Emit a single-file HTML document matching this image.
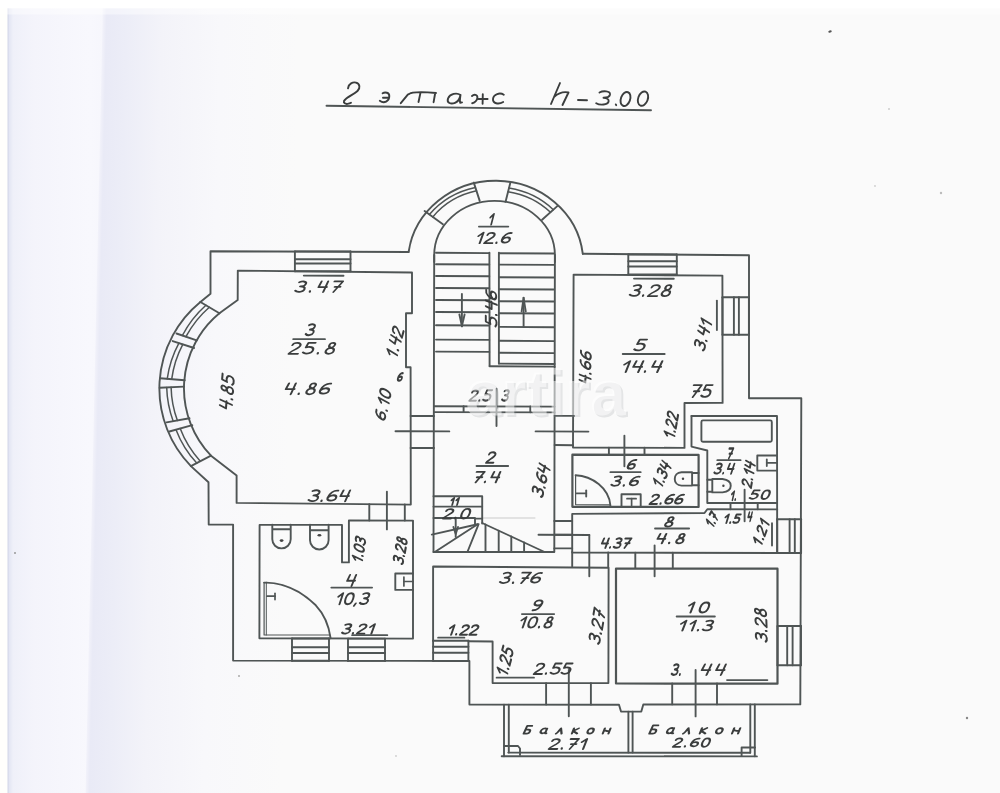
<!DOCTYPE html>
<html><head><meta charset="utf-8"><title>plan</title>
<style>
html,body{margin:0;padding:0;background:#fff;}
body{width:1000px;height:793px;overflow:hidden;position:relative;font-family:"Liberation Sans",sans-serif;}
svg{position:absolute;left:0;top:0;display:block;}
</style></head><body>
<svg width="1000" height="793" viewBox="0 0 1000 793">
<defs>
<linearGradient id="gs" gradientUnits="userSpaceOnUse" x1="8" x2="110" y1="0" y2="0">
<stop offset="0" stop-color="#d3d7e8"/><stop offset="0.012" stop-color="#e3e6f3"/><stop offset="0.05" stop-color="#eff0f9"/>
<stop offset="0.25" stop-color="#f4f4fb"/><stop offset="0.8" stop-color="#f8f8fd"/><stop offset="1" stop-color="#f6f6fc"/>
</linearGradient>
<linearGradient id="gf" gradientUnits="userSpaceOnUse" x1="103" x2="300" y1="0" y2="0">
<stop offset="0" stop-color="#f2f2fa"/><stop offset="0.02" stop-color="#e9eaf6"/><stop offset="0.12" stop-color="#ecedf7"/>
<stop offset="0.3" stop-color="#f3f3f9"/><stop offset="0.6" stop-color="#f8f8fb"/><stop offset="1" stop-color="#fafafa"/>
</linearGradient>
<filter id="bl" x="-2%" y="-2%" width="104%" height="104%"><feGaussianBlur stdDeviation="0.7"/></filter>
<path id="g48" d="M4 -11 C1.2 -11 0.3 -8 0.3 -5.5 C0.3 -2.5 1.2 0 4 0 C6.8 0 7.7 -2.5 7.7 -5.5 C7.7 -8 6.8 -11 4 -11 Z"/><path id="g49" d="M1.2 -7.5 L4.8 -11 L4.8 0"/><path id="g50" d="M0.6 -8.6 C0.8 -11.6 7.4 -11.8 7.2 -8.2 C7 -5.2 1 -3 0.3 0 L7.8 0"/><path id="g51" d="M0.8 -10.2 C3 -11.6 7.2 -11.4 7 -8.4 C6.8 -6.4 4.6 -5.9 3 -5.9 C5.4 -5.9 7.8 -5 7.6 -2.8 C7.3 0.2 2.4 0.6 0.2 -1.4"/><path id="g52" d="M1.2 -11 L0.5 -5.2 L7.6 -5.2 M6.8 -11 L6.2 0"/><path id="g53" d="M7.4 -11 L1.6 -11 L1 -6.4 C3 -7.4 7.8 -7.2 7.7 -3.6 C7.6 0.2 2.6 0.6 0.2 -1.4"/><path id="g54" d="M7 -10.6 C3.2 -11.4 0.3 -7.6 0.3 -3.8 C0.3 0.2 7.4 0.6 7.5 -3.4 C7.5 -6.8 2 -7 0.5 -3.6"/><path id="g55" d="M0.6 -11 L7.8 -11 L3.2 0 M2.6 -5.4 L7.4 -5.4"/><path id="g56" d="M4 -6 C1 -6.6 1.2 -11 4.2 -11 C7.2 -11 6.9 -6.6 4 -6 C-0.2 -5.4 -0.4 0 4 0 C8.4 0 8.2 -5.4 4 -6 Z"/><path id="g57" d="M7.5 -7.4 C6.2 -4.2 0.6 -4.6 0.6 -7.8 C0.6 -11.8 7.8 -11.4 7.6 -7.4 C7.4 -3.6 5 0 1 -0.3"/><path id="g46" d="M1.2 -0.9 L1.4 -0.1"/><path id="g44" d="M1.6 -0.8 L0.6 1.6"/><path id="g45" d="M0.8 -4.8 L6.4 -4.8"/><path id="g1041" d="M7 -10.5 L1.5 -10.5 L1 0 L4.5 0 C8 0 8 -5.5 4.5 -5.5 L1.2 -5.5"/><path id="g1072" d="M6.2 -6.5 C3 -8.5 0.3 -6 0.4 -3.2 C0.5 0.3 5 0.5 6.2 -2.5 M6.4 -7 L6.2 -1.5 C6.2 -0.3 6.8 0 7.6 -0.3"/><path id="g1083" d="M0.3 0 C1.5 -0.5 2.5 -4 3.6 -7.2 L6.6 0"/><path id="g1082" d="M1 -7.2 L1 0 M6.4 -7.2 L1.2 -3.6 L6.8 0"/><path id="g1086" d="M3.6 -7.2 C1.2 -7.2 0.4 -5.4 0.4 -3.6 C0.4 -1.6 1.2 0 3.6 0 C6 0 6.8 -1.6 6.8 -3.6 C6.8 -5.4 6 -7.2 3.6 -7.2 Z"/><path id="g1085" d="M1 -7.2 L1 0 M1 -3.2 C3 -6 5 -1.5 7.4 -4.2 M7.4 -7.2 L7.4 0"/>
</defs>
<rect x="0" y="0" width="1000" height="793" fill="#fafafa"/>
<rect x="0" y="0" width="8" height="793" fill="#fffffc"/>
<rect x="7.5" y="0" width="103" height="793" fill="url(#gs)"/>
<rect x="103" y="0" width="198" height="793" fill="url(#gf)" transform="skewX(-1.26)"/>
<rect x="0" y="0" width="1000" height="8.5" fill="#ffffff"/>
<rect x="0" y="8.5" width="1000" height="6" fill="#ffffff" opacity="0.45"/>
<g filter="url(#bl)">
<ellipse cx="830" cy="31.5" rx="1.8" ry="1.1" fill="#555" transform="rotate(-20 830 31.5)"/>
<circle cx="967" cy="718" r="1.2" fill="#888"/>
<circle cx="15" cy="553" r="1" fill="#999"/>
<circle cx="239" cy="676" r="1" fill="#aaa"/>
<circle cx="941" cy="193" r="1.2" fill="#bbb"/>
<circle cx="889" cy="109" r="1" fill="#ccc"/>
<circle cx="875" cy="186" r="0.9" fill="#ccc"/>
<circle cx="396" cy="756" r="0.9" fill="#ccc"/>
</g>
<g filter="url(#bl)">
<g fill="none" stroke="#505555" stroke-width="1.9" stroke-linecap="round" stroke-linejoin="round">
<path d="M200.4 302 L210.5 293.8 L210.5 251.2 L408.6 252"/>
<path d="M408.6 252 A87.8 82.5 0 0 1 582.8 253.8"/>
<path d="M582.8 253.8 L749 255.2 L749 398.2 L801.3 398.2 L800.3 704.4 L643.3 704.5 L641.3 711.6 L621 711.6 L619 704.8 L469.4 704.6 L469.4 661 L233.1 660.6 L233.1 524.6 L208.7 524.6 L208.5 482.3 L190.9 466.1"/>
<path d="M190.9 466.1 A111.5 111.5 0 0 1 200.4 302"/>
<path d="M219.4 313.3 L237.7 300.1 L237.8 270.6 L412 272.5 L412 313.2 L406 313.2 L406 367.2 L410.6 367.2 L410.8 504.6 L236.6 502.9 L236.6 475.6 L211 455.7"/>
<path d="M211 455.7 A97.3 97.3 0 0 1 219.4 313.3"/>
<line x1="200.4" y1="302" x2="219.4" y2="313.3"/>
<line x1="176.5" y1="333.5" x2="196.7" y2="340.4"/>
<line x1="172.7" y1="341.1" x2="194.1" y2="348"/>
<line x1="160.1" y1="378.3" x2="184.7" y2="380.2"/>
<line x1="159.7" y1="387.8" x2="184" y2="386.6"/>
<line x1="166.6" y1="422.4" x2="189.5" y2="418.3"/>
<line x1="169.4" y1="431.5" x2="192.3" y2="425.2"/>
<line x1="190.9" y1="466.1" x2="211" y2="455.7"/>
<path d="M205.9 305.3 A106.0 106.0 0 0 0 182.4 335.5" stroke-width="1.5"/>
<path d="M209.3 307.3 A102.6 102.6 0 0 0 186.0 336.7" stroke-width="1.5"/>
<path d="M178.9 343.1 A106.0 106.0 0 0 0 167.2 378.9" stroke-width="1.5"/>
<path d="M182.8 344.3 A102.6 102.6 0 0 0 171.7 379.2" stroke-width="1.5"/>
<path d="M166.7 387.5 A106.0 106.0 0 0 0 173.2 421.2" stroke-width="1.5"/>
<path d="M171.1 387.2 A102.6 102.6 0 0 0 177.4 420.5" stroke-width="1.5"/>
<path d="M176.0 429.7 A106.0 106.0 0 0 0 196.7 463.1" stroke-width="1.5"/>
<path d="M180.2 428.5 A102.6 102.6 0 0 0 200.3 461.2" stroke-width="1.5"/>
<path d="M434.2 262 L434.2 255.3 A60.35 54.4 0 0 1 554.9 255.3 L554.9 262"/>
<line x1="424.6" y1="211" x2="442.9" y2="224.2"/>
<line x1="473.8" y1="182.6" x2="479.7" y2="200.9"/>
<line x1="510.2" y1="183.3" x2="505.5" y2="201.9"/>
<line x1="557.3" y1="206.1" x2="542.1" y2="219.8"/>
<path d="M429.4 214.4 A81.6 76.3 0 0 1 475.3 187.4" stroke-width="1.5"/>
<path d="M432.8 216.9 A77.0 71.7 0 0 1 476.5 190.8" stroke-width="1.5"/>
<path d="M509.0 188.1 A81.6 76.3 0 0 1 553.3 209.7" stroke-width="1.5"/>
<path d="M508.1 191.7 A77.0 71.7 0 0 1 550.5 212.3" stroke-width="1.5"/>
<line x1="434.2" y1="255" x2="433.5" y2="552"/>
<line x1="554.9" y1="255" x2="554.3" y2="551.5"/>
<line x1="436" y1="252.8" x2="489.3" y2="253.10000000000002"/>
<line x1="436" y1="264.2" x2="489.3" y2="264.5"/>
<line x1="436" y1="276" x2="489.3" y2="276.3"/>
<line x1="436" y1="288" x2="489.3" y2="288.3"/>
<line x1="436" y1="300" x2="489.3" y2="300.3"/>
<line x1="436" y1="312" x2="489.3" y2="312.3"/>
<line x1="436" y1="325.2" x2="489.3" y2="325.5"/>
<line x1="436" y1="339.6" x2="489.3" y2="339.90000000000003"/>
<line x1="436" y1="351.6" x2="489.3" y2="351.90000000000003"/>
<line x1="499" y1="253.2" x2="553.8" y2="253.5"/>
<line x1="499" y1="264.6" x2="553.8" y2="264.90000000000003"/>
<line x1="499" y1="277.2" x2="553.8" y2="277.5"/>
<line x1="499" y1="289.2" x2="553.8" y2="289.5"/>
<line x1="499" y1="301.2" x2="553.8" y2="301.5"/>
<line x1="499" y1="313.2" x2="553.8" y2="313.5"/>
<line x1="499" y1="326.9" x2="553.8" y2="327.2"/>
<line x1="499" y1="340.8" x2="553.8" y2="341.1"/>
<line x1="499" y1="352.8" x2="553.8" y2="353.1"/>
<line x1="489.4" y1="252.8" x2="489.6" y2="366"/>
<line x1="498.9" y1="252.8" x2="498.9" y2="363.6"/>
<line x1="489.6" y1="366.2" x2="554.6" y2="366.6"/>
<line x1="498.9" y1="363.6" x2="554.6" y2="364"/>
<line x1="461.9" y1="294" x2="461.9" y2="326.4"/>
<path d="M459.4 314.5 L461.9 326 L464.6 314.5"/>
<line x1="523.6" y1="297.6" x2="523.6" y2="326.4"/>
<path d="M521.6 311.5 L523.6 297.8 L525.8 311.5" stroke-width="1.8"/>
<line x1="434" y1="406.3" x2="554.6" y2="406.6"/>
<line x1="434" y1="412.1" x2="554.6" y2="412.4"/>
<line x1="463.6" y1="406.3" x2="463.6" y2="412.1"/>
<line x1="530.3" y1="406.5" x2="530.3" y2="412.3"/>
<line x1="496.5" y1="388.8" x2="496.5" y2="426"/>
<line x1="410.6" y1="416" x2="434" y2="416"/>
<line x1="410.6" y1="448" x2="434" y2="448"/>
<line x1="395.5" y1="431.2" x2="449.3" y2="431.4"/>
<line x1="554.8" y1="415.9" x2="574" y2="415.9"/>
<line x1="554.6" y1="445" x2="573" y2="445.2"/>
<line x1="535.6" y1="431.4" x2="588.4" y2="431.6"/>
<line x1="294.9" y1="251.4" x2="350.5" y2="251.4"/>
<line x1="294.9" y1="259.3" x2="350.5" y2="259.3"/>
<line x1="294.9" y1="263.5" x2="350.5" y2="263.5"/>
<line x1="294.9" y1="271.2" x2="350.5" y2="271.2"/>
<line x1="294.9" y1="251.4" x2="294.9" y2="271.2"/>
<line x1="350.5" y1="251.4" x2="350.5" y2="271.2"/>
<line x1="303.8" y1="275.6" x2="343.5" y2="275.8"/>
<line x1="628.3" y1="254.5" x2="676.8" y2="254.5"/>
<line x1="628.3" y1="261.2" x2="676.8" y2="261.2"/>
<line x1="628.3" y1="266.5" x2="676.8" y2="266.5"/>
<line x1="628.3" y1="274.4" x2="676.8" y2="274.4"/>
<line x1="628.3" y1="254.5" x2="628.3" y2="274.4"/>
<line x1="676.8" y1="254.5" x2="676.8" y2="274.4"/>
<line x1="634" y1="278.6" x2="673.8" y2="278.8"/>
<path d="M573.6 274.6 L722.4 275.6 L722.6 402.9 L684.5 403 L684.5 447.9 L573 447.5 Z"/>
<line x1="722.5" y1="297.3" x2="722.5" y2="334.8"/>
<line x1="733.9" y1="297.3" x2="733.9" y2="334.8"/>
<line x1="738.9" y1="297.3" x2="738.9" y2="334.8"/>
<line x1="748.9" y1="297.3" x2="748.9" y2="334.8"/>
<line x1="722.5" y1="297.3" x2="748.9" y2="297.3"/>
<line x1="722.5" y1="334.8" x2="748.9" y2="334.8"/>
<line x1="716.9" y1="300.6" x2="716.9" y2="330.1"/>
<line x1="608.9" y1="447.7" x2="608.9" y2="454.6"/>
<line x1="644.5" y1="447.7" x2="644.5" y2="454.6"/>
<line x1="624.4" y1="435.7" x2="624.4" y2="466.2"/>
<path d="M572.4 454.7 L698.6 454.9 L698.6 507 L572.4 506.8 Z" stroke-width="2.2"/>
<path d="M575.6 475.3 L575.6 504.6 L610.4 504.8" stroke-width="1.2"/>
<path d="M575.6 475.3 C592 476 609 488 610.4 505.5"/>
<line x1="576.4" y1="493.4" x2="586.2" y2="493.4"/>
<line x1="586.2" y1="490.4" x2="586.2" y2="496.6"/>
<path d="M621.5 507 L621.5 494.2 L640.7 494.2 L640.7 507"/>
<line x1="627" y1="498.7" x2="636.1" y2="498.7" stroke-width="1.7"/>
<line x1="631.6" y1="498.7" x2="631.6" y2="505.5" stroke-width="1.7"/>
<path d="M692.1 473 L698.6 473 M692.1 485.3 L698.6 485.3 M692.1 472.2 L681.5 472.2 C672.5 472.6 672.5 485.2 681.5 485.6 L692.1 485.6 Z"/>
<circle cx="683" cy="478.7" r="1.2" fill="#444" stroke="none"/>
<path d="M691.5 416 L777 416 L777.2 552.6"/>
<path d="M777.2 503 L707.3 503 L707.3 450.5 L691.5 446.6 L691.5 416"/>
<rect x="701.4" y="420.4" width="70.4" height="21.4" rx="1.5" ry="1.5"/>
<path d="M777 455.5 L757.3 455.5 L757.3 470.6 L777 470.6"/>
<line x1="766.8" y1="462.8" x2="777" y2="462.8" stroke-width="1.8"/>
<line x1="766.8" y1="459.5" x2="766.8" y2="466" stroke-width="1.8"/>
<path d="M707.3 479.7 L712.3 479.7 M707.3 491.8 L712.3 491.8 M712.3 479 L722.5 479 C733.5 480.5 733.5 490.8 722.5 492.4 L712.3 492.4 Z"/>
<circle cx="723.4" cy="485.8" r="1.2" fill="#444" stroke="none"/>
<line x1="730.5" y1="503" x2="730.5" y2="509.3"/>
<line x1="757.7" y1="503" x2="757.7" y2="509.3"/>
<line x1="744.6" y1="489.8" x2="744.6" y2="521.3"/>
<path d="M777.2 509.4 L707.3 509.2 L704.5 513 L572.2 513.9 L572.2 552.6 L777.2 553"/>
<line x1="777.2" y1="519.2" x2="777.2" y2="553"/>
<line x1="789.6" y1="519.2" x2="789.6" y2="553"/>
<line x1="794.8" y1="519.2" x2="794.8" y2="553"/>
<line x1="801.1" y1="519.2" x2="801.1" y2="553"/>
<line x1="777.2" y1="519.2" x2="801.1" y2="519.2"/>
<line x1="777.2" y1="553" x2="801.1" y2="553"/>
<line x1="772" y1="523.3" x2="772" y2="545.6"/>
<line x1="608.2" y1="552.4" x2="608.2" y2="567"/>
<line x1="635.3" y1="552.6" x2="635.3" y2="568"/>
<line x1="672.8" y1="552.6" x2="672.8" y2="568.2"/>
<line x1="654.6" y1="545.4" x2="654.6" y2="576.2"/>
<line x1="589.3" y1="535" x2="589.3" y2="576.2"/>
<line x1="572.2" y1="552" x2="572.2" y2="566.5"/>
<line x1="554.3" y1="521" x2="572.2" y2="521"/>
<line x1="554.3" y1="534.8" x2="572.2" y2="534.8"/>
<line x1="554.3" y1="548.4" x2="572.2" y2="548.4"/>
<line x1="538.5" y1="534.8" x2="589.3" y2="535"/>
<path d="M433.5 496.3 L482.2 496.3 L482.2 523.6"/>
<line x1="433.5" y1="506.6" x2="482.2" y2="506.6"/>
<line x1="433.5" y1="518" x2="475" y2="518"/>
<path d="M475 524.6 L475 518.6 L482.2 518.6"/>
<line x1="433.5" y1="552" x2="554.3" y2="552"/>
<line x1="477.6" y1="524.2" x2="431.8" y2="534.6"/>
<line x1="477.6" y1="524.2" x2="434.8" y2="552"/>
<line x1="478.6" y1="524.2" x2="467.4" y2="552"/>
<line x1="482.2" y1="523" x2="544.6" y2="552"/>
<line x1="485.5" y1="524.5336538461538" x2="485.5" y2="552"/>
<line x1="498.7" y1="530.6682692307693" x2="498.7" y2="552"/>
<line x1="511.3" y1="536.5240384615385" x2="511.3" y2="552"/>
<line x1="524.1" y1="542.4727564102565" x2="524.1" y2="552"/>
<line x1="455.7" y1="519.5" x2="455.7" y2="536.9"/>
<path d="M453.4 527 L455.7 534 L458 527"/>
<line x1="482.2" y1="518" x2="535" y2="518" stroke-width="0.8" opacity="0.35"/>
<path d="M433.1 640.7 L433.1 566.5 L608.6 567.7 L608.4 683.1 L492.6 683.1 L492.6 641.5 L468.4 641.3"/>
<line x1="433.1" y1="640.7" x2="468.4" y2="640.7"/>
<line x1="433.1" y1="646.8" x2="468.4" y2="646.8"/>
<line x1="433.1" y1="652.8" x2="468.4" y2="652.8"/>
<line x1="433.1" y1="660.9" x2="468.4" y2="660.9"/>
<line x1="433.1" y1="640.7" x2="433.1" y2="660.9"/>
<line x1="468.4" y1="640.7" x2="468.4" y2="660.9"/>
<line x1="438.1" y1="637.7" x2="464.4" y2="637.7" stroke-width="1.8"/>
<line x1="546.1" y1="683.1" x2="546.1" y2="704.6"/>
<line x1="590.9" y1="683.1" x2="590.9" y2="704.6"/>
<line x1="568.8" y1="670" x2="568.8" y2="716.2"/>
<line x1="496.6" y1="677.7" x2="534" y2="677.7" stroke-width="1.8"/>
<path d="M616 568.5 L777.5 568.7 L777.5 683.7 L616 683.5 Z" stroke-width="2.2"/>
<line x1="777.5" y1="626" x2="777.5" y2="665.3"/>
<line x1="787.2" y1="626" x2="787.2" y2="665.3"/>
<line x1="792.6" y1="626" x2="792.6" y2="665.3"/>
<line x1="801" y1="626" x2="801" y2="665.3"/>
<line x1="777.5" y1="626" x2="801" y2="626"/>
<line x1="777.5" y1="665.3" x2="801" y2="665.3"/>
<line x1="672.2" y1="683.5" x2="672.2" y2="704.4"/>
<line x1="717" y1="683.5" x2="717" y2="704.4"/>
<line x1="695.6" y1="670" x2="695.6" y2="716.4"/>
<line x1="727" y1="680.1" x2="767.4" y2="680.1" stroke-width="1.8"/>
<line x1="504" y1="704.8" x2="504" y2="756.2"/>
<line x1="508.8" y1="704.8" x2="508.8" y2="752.6"/>
<line x1="501.7" y1="756.2" x2="756.9" y2="756.4"/>
<line x1="508.3" y1="752.6" x2="750.1" y2="752.8"/>
<path d="M504 746 L518 746 L520 748.5 L520 755"/>
<line x1="628.4" y1="711.8" x2="628.4" y2="752.6"/>
<line x1="632.6" y1="711.8" x2="632.6" y2="752.6"/>
<line x1="750.3" y1="704.5" x2="750.3" y2="752.8"/>
<line x1="754.8" y1="704.5" x2="754.8" y2="756.3"/>
<path d="M741.6 756 L741.6 747.5 L755 747.5"/>
<path d="M342 524.9 L259.6 524.9 L259.4 638.2 L413 638.6 L413 520.6 L348.9 520.4 L348.9 562.4 L342 562.4 L342 524.9"/>
<line x1="369.3" y1="504.2" x2="369.3" y2="520.5"/>
<line x1="404.8" y1="504.5" x2="404.8" y2="520.6"/>
<line x1="386.9" y1="491.8" x2="386.9" y2="529.4"/>
<path d="M264.1 582.6 L264.1 635 L330 635" stroke-width="1.2"/>
<path d="M266.3 582.6 C284 583 301 591 315.8 605.3 C324 614 329 626 330.6 638.2"/>
<line x1="264.1" y1="582.6" x2="266.3" y2="582.6"/>
<line x1="266.3" y1="582.6" x2="266.3" y2="635" stroke-width="1.0"/>
<line x1="267" y1="596.2" x2="275" y2="596.2" stroke-width="1.7"/>
<line x1="275" y1="593.3" x2="275" y2="599.6" stroke-width="1.7"/>
<path d="M272.3 524.7 L272.3 539.2 A9.199999999999989 9.199999999999989 0 0 0 290.7 539.2 L290.7 524.7 M272.3 529.3 L290.7 529.3"/>
<ellipse cx="281.6" cy="540.6" rx="1.9" ry="1.4" fill="#444" stroke="none"/>
<path d="M310 524.7 L310 540.2 A9.300000000000011 9.300000000000011 0 0 0 328.6 540.2 L328.6 524.7 M310 530.2 L328.6 530.2"/>
<ellipse cx="319.4" cy="535.2" rx="1.9" ry="1.3" fill="#444" stroke="none"/>
<path d="M413 573.5 L395.3 573.5 L395.3 589.9 L413 589.9"/>
<line x1="403.9" y1="581.5" x2="413" y2="581.5" stroke-width="1.7"/>
<line x1="403.9" y1="577" x2="403.9" y2="586" stroke-width="1.7"/>
<line x1="292" y1="638.5" x2="329" y2="638.5"/>
<line x1="292" y1="647.3" x2="329" y2="647.3"/>
<line x1="292" y1="653" x2="329" y2="653"/>
<line x1="292" y1="660.8" x2="329" y2="660.8"/>
<line x1="292" y1="638.5" x2="292" y2="660.8"/>
<line x1="329" y1="638.5" x2="329" y2="660.8"/>
<line x1="348" y1="638.6" x2="385" y2="638.6"/>
<line x1="348" y1="647.3" x2="385" y2="647.3"/>
<line x1="348" y1="653" x2="385" y2="653"/>
<line x1="348" y1="660.9" x2="385" y2="660.9"/>
<line x1="348" y1="638.6" x2="348" y2="660.9"/>
<line x1="385" y1="638.6" x2="385" y2="660.9"/>
<line x1="352.1" y1="635.2" x2="387.3" y2="635.2" stroke-width="1.8"/>
<line x1="326.5" y1="105.8" x2="651" y2="110.3" stroke-width="1.9"/>
<line x1="293.2" y1="339.2" x2="325" y2="339.2" stroke-width="1.8"/>
<line x1="478.9" y1="226.6" x2="508.3" y2="226.6" stroke-width="1.8"/>
<line x1="622.7" y1="354" x2="664.7" y2="354" stroke-width="1.8"/>
<line x1="610.4" y1="472.2" x2="640.7" y2="472.2" stroke-width="1.8"/>
<line x1="655" y1="528.5" x2="689.1" y2="528.5" stroke-width="1.8"/>
<line x1="717.3" y1="460.2" x2="740.6" y2="460.2" stroke-width="1.8"/>
<line x1="476.5" y1="466" x2="508.2" y2="466" stroke-width="1.8"/>
<line x1="331.3" y1="587.6" x2="372.1" y2="587.6" stroke-width="1.8"/>
<line x1="521.9" y1="614.1" x2="554.2" y2="614.1" stroke-width="1.8"/>
<line x1="676.6" y1="616.5" x2="714.9" y2="616.5" stroke-width="1.8"/>
</g>
<g fill="none" stroke="#3a3d3d" stroke-linecap="round" stroke-linejoin="round">
<path d="M348 88.4 C348.5 83.5 353 81.8 356 82.6 C360 83.6 360.5 88 357.5 91 C354 94.5 346 97 344 101 C343.3 103 345.5 104.2 347.5 103.9 C349 103.7 350.3 103.3 351 102.8" stroke-width="1.9"/>
<path d="M382.6 93.2 C385 91.8 389.3 92.4 389.3 96 C389.3 101.5 384 103.8 379.8 100.8 M383 97.8 L389 97.6" stroke-width="1.9"/>
<path d="M400.8 103.2 L408 94.4 C412 91.5 420 91.5 436 93 M420.5 92.6 L418.5 102 M435.2 93 L433.6 102.2" stroke-width="1.9"/>
<path d="M460.5 95 C457 92.5 450 93.5 448 98.5 C446.5 103 451 104.5 455 102.8 C458 101.5 460 98 460.5 95 C460 98.5 459.5 101.5 460.2 102.8 L462 102.4" stroke-width="1.9"/>
<path d="M472 96 C474 94 477.5 94.5 477.4 97.5 C477.3 100.5 474.5 103 472.2 103.2 M477.4 99 L487.6 99 M482.8 94.2 L482.6 103.8 M503.8 94.8 C500 92.2 493.5 94 493 99 C492.6 103.5 498.5 104.8 503.2 102" stroke-width="1.9"/>
<path d="M560 83 L551 104 M554 97 C558 93.5 564 91.5 568.5 92.5 L562.5 105" stroke-width="1.9"/>
<path d="M578 100 L587 100.2" stroke-width="1.9"/>
<path d="M599.5 92.5 C603 90.5 610.5 90.8 610 94.5 C609.6 97 606 97.8 603.5 97.8 C606.5 97.8 609.2 99 608.6 101.5 C607.8 105 600 105.5 596.2 103.2" stroke-width="1.9"/>
<path d="M615.8 104.4 L616.2 105.2" stroke-width="1.9"/>
<ellipse cx="625.5" cy="99" rx="4.6" ry="7.2" transform="rotate(20 625.5 99)" stroke-width="1.9"/>
<ellipse cx="643" cy="98.6" rx="4.8" ry="7.4" transform="rotate(20 643 98.6)" stroke-width="1.9"/>
<g transform="translate(305.1 335.3) rotate(0) scale(0.987 1.000) skewX(-18)" stroke-width="1.96"><use href="#g51" x="0.00"/></g>
<g transform="translate(288.3 353.8) rotate(0) scale(1.220 1.000) skewX(-18)" stroke-width="1.76"><use href="#g50" x="0.00"/><use href="#g53" x="11.35"/><use href="#g46" x="22.70"/><use href="#g56" x="29.05"/></g>
<g transform="translate(294.5 292.0) rotate(0) scale(1.165 0.955) skewX(-18)" stroke-width="1.84"><use href="#g51" x="0.00"/><use href="#g46" x="11.74"/><use href="#g52" x="18.47"/><use href="#g55" x="30.21"/></g>
<g transform="translate(283.2 394.3) rotate(0) scale(1.220 1.000) skewX(-18)" stroke-width="1.76"><use href="#g52" x="0.00"/><use href="#g46" x="11.24"/><use href="#g56" x="17.48"/><use href="#g54" x="28.72"/></g>
<g transform="translate(307.8 501.3) rotate(0) scale(1.176 1.000) skewX(-18)" stroke-width="1.79"><use href="#g51" x="0.00"/><use href="#g46" x="10.20"/><use href="#g54" x="15.40"/><use href="#g52" x="25.60"/></g>
<g transform="translate(231.4 411.0) rotate(-85) scale(0.997 1.091) skewX(-18)" stroke-width="1.87"><use href="#g52" x="0.00"/><use href="#g46" x="10.20"/><use href="#g56" x="15.40"/><use href="#g53" x="25.60"/></g>
<g transform="translate(384.9 421.3) rotate(-78) scale(0.919 1.000) skewX(-18)" stroke-width="2.03"><use href="#g54" x="0.00"/><use href="#g46" x="10.20"/><use href="#g49" x="15.40"/><use href="#g48" x="24.10"/></g>
<g transform="translate(396.0 359.4) rotate(-75) scale(0.919 1.000) skewX(-18)" stroke-width="2.03"><use href="#g49" x="0.00"/><use href="#g46" x="8.70"/><use href="#g52" x="13.90"/><use href="#g50" x="24.10"/></g>
<g transform="translate(397.0 381.0) rotate(0) scale(0.562 0.727) skewX(-18)" stroke-width="3.02"><use href="#g54" x="0.00"/></g>
<g transform="translate(496.8 327.0) rotate(-90) scale(1.027 1.000) skewX(-18)" stroke-width="1.92"><use href="#g53" x="0.00"/><use href="#g46" x="10.20"/><use href="#g52" x="15.40"/><use href="#g54" x="25.60"/></g>
<g transform="translate(469.1 400.8) rotate(0) scale(0.872 0.955) skewX(-18)" stroke-width="2.14"><use href="#g50" x="0.00"/><use href="#g46" x="10.20"/><use href="#g53" x="15.40"/></g>
<g transform="translate(501.5 400.8) rotate(0) scale(0.737 0.955) skewX(-18)" stroke-width="2.30"><use href="#g51" x="0.00"/></g>
<g transform="translate(590.4 384.7) rotate(-88) scale(0.938 1.000) skewX(-18)" stroke-width="2.01"><use href="#g52" x="0.00"/><use href="#g46" x="10.20"/><use href="#g54" x="15.40"/><use href="#g54" x="25.60"/></g>
<g transform="translate(487.5 224.6) rotate(0) scale(0.769 0.955) skewX(-18)" stroke-width="2.26"><use href="#g49" x="0.00"/></g>
<g transform="translate(474.5 243.2) rotate(0) scale(1.075 0.955) skewX(-18)" stroke-width="1.92"><use href="#g49" x="0.00"/><use href="#g50" x="8.70"/><use href="#g46" x="18.90"/><use href="#g54" x="24.10"/></g>
<g transform="translate(629.0 296.1) rotate(0) scale(1.208 1.000) skewX(-18)" stroke-width="1.77"><use href="#g51" x="0.00"/><use href="#g46" x="10.20"/><use href="#g50" x="15.40"/><use href="#g56" x="25.60"/></g>
<g transform="translate(633.5 350.6) rotate(0) scale(1.220 1.000) skewX(-18)" stroke-width="1.76"><use href="#g53" x="0.00"/></g>
<g transform="translate(619.9 372.1) rotate(0) scale(1.220 1.000) skewX(-18)" stroke-width="1.76"><use href="#g49" x="0.00"/><use href="#g52" x="8.79"/><use href="#g46" x="19.08"/><use href="#g52" x="24.38"/></g>
<g transform="translate(704.0 351.4) rotate(-75) scale(0.919 1.000) skewX(-18)" stroke-width="2.03"><use href="#g51" x="0.00"/><use href="#g46" x="10.20"/><use href="#g52" x="15.40"/><use href="#g49" x="25.60"/></g>
<g transform="translate(689.2 397.1) rotate(0) scale(1.104 1.091) skewX(-18)" stroke-width="1.78"><use href="#g55" x="0.00"/><use href="#g53" x="10.20"/></g>
<g transform="translate(673.7 439.7) rotate(-80) scale(0.794 0.955) skewX(-18)" stroke-width="2.23"><use href="#g49" x="0.00"/><use href="#g46" x="8.70"/><use href="#g50" x="13.90"/><use href="#g50" x="24.10"/></g>
<g transform="translate(626.5 469.2) rotate(0) scale(0.938 0.864) skewX(-18)" stroke-width="2.17"><use href="#g54" x="0.00"/></g>
<g transform="translate(610.7 485.9) rotate(0) scale(1.054 0.864) skewX(-18)" stroke-width="2.03"><use href="#g51" x="0.00"/><use href="#g46" x="10.98"/><use href="#g54" x="16.96"/></g>
<g transform="translate(660.8 488.9) rotate(-65) scale(0.763 0.955) skewX(-18)" stroke-width="2.27"><use href="#g49" x="0.00"/><use href="#g46" x="8.70"/><use href="#g51" x="13.90"/><use href="#g52" x="24.10"/></g>
<g transform="translate(649.3 504.0) rotate(0) scale(0.961 0.864) skewX(-18)" stroke-width="2.14"><use href="#g50" x="0.00"/><use href="#g46" x="10.20"/><use href="#g54" x="15.40"/><use href="#g54" x="25.60"/></g>
<g transform="translate(663.6 526.7) rotate(0) scale(1.054 0.864) skewX(-18)" stroke-width="2.03"><use href="#g56" x="0.00"/></g>
<g transform="translate(655.3 543.4) rotate(0) scale(1.054 0.864) skewX(-18)" stroke-width="2.03"><use href="#g52" x="0.00"/><use href="#g46" x="11.69"/><use href="#g56" x="18.38"/></g>
<g transform="translate(600.1 547.9) rotate(0) scale(0.848 0.864) skewX(-18)" stroke-width="2.28"><use href="#g52" x="0.00"/><use href="#g46" x="10.20"/><use href="#g51" x="15.40"/><use href="#g55" x="25.60"/></g>
<g transform="translate(726.9 458.5) rotate(0) scale(0.575 0.909) skewX(-18)" stroke-width="2.63"><use href="#g55" x="0.00"/></g>
<g transform="translate(713.8 473.7) rotate(0) scale(0.799 0.909) skewX(-18)" stroke-width="2.28"><use href="#g51" x="0.00"/><use href="#g46" x="10.20"/><use href="#g52" x="15.40"/></g>
<g transform="translate(750.8 488.3) rotate(-80) scale(0.763 0.864) skewX(-18)" stroke-width="2.40"><use href="#g50" x="0.00"/><use href="#g46" x="10.20"/><use href="#g49" x="15.40"/><use href="#g52" x="24.10"/></g>
<g transform="translate(730.0 500.0) rotate(0) scale(0.513 0.773) skewX(-18)" stroke-width="3.03"><use href="#g49" x="0.00"/><use href="#g46" x="8.70"/></g>
<g transform="translate(749.1 499.0) rotate(0) scale(0.943 0.773) skewX(-18)" stroke-width="2.27"><use href="#g53" x="0.00"/><use href="#g48" x="11.84"/></g>
<g transform="translate(712.2 528.2) rotate(-60) scale(0.571 0.818) skewX(-18)" stroke-width="2.81"><use href="#g49" x="0.00"/><use href="#g46" x="8.70"/><use href="#g55" x="13.90"/></g>
<g transform="translate(722.9 523.0) rotate(0) scale(0.717 0.773) skewX(-18)" stroke-width="2.62"><use href="#g49" x="0.00"/><use href="#g46" x="8.70"/><use href="#g53" x="13.90"/></g>
<g transform="translate(747.1 521.0) rotate(0) scale(0.487 0.773) skewX(-18)" stroke-width="3.09"><use href="#g52" x="0.00"/></g>
<g transform="translate(760.5 547.3) rotate(-70) scale(0.833 0.864) skewX(-18)" stroke-width="2.30"><use href="#g49" x="0.00"/><use href="#g46" x="8.70"/><use href="#g50" x="13.90"/><use href="#g49" x="24.10"/></g>
<g transform="translate(485.8 462.7) rotate(0) scale(0.962 0.955) skewX(-18)" stroke-width="2.03"><use href="#g50" x="0.00"/></g>
<g transform="translate(472.2 482.4) rotate(0) scale(1.090 0.955) skewX(-18)" stroke-width="1.91"><use href="#g55" x="0.00"/><use href="#g46" x="10.20"/><use href="#g52" x="15.40"/></g>
<g transform="translate(542.2 497.9) rotate(-75) scale(0.908 1.045) skewX(-18)" stroke-width="2.00"><use href="#g51" x="0.00"/><use href="#g46" x="10.20"/><use href="#g54" x="15.40"/><use href="#g52" x="25.60"/></g>
<g transform="translate(449.5 505.0) rotate(0) scale(0.559 0.636) skewX(-18)" stroke-width="3.26"><use href="#g49" x="0.00"/><use href="#g49" x="8.70"/></g>
<g transform="translate(442.7 518.5) rotate(0) scale(1.054 0.864) skewX(-18)" stroke-width="2.03"><use href="#g50" x="0.00"/><use href="#g46" x="10.51"/><use href="#g48" x="16.01"/></g>
<g transform="translate(344.8 586.0) rotate(0) scale(1.087 1.000) skewX(-18)" stroke-width="1.87"><use href="#g52" x="0.00"/></g>
<g transform="translate(334.6 604.2) rotate(0) scale(1.019 1.000) skewX(-18)" stroke-width="1.93"><use href="#g49" x="0.00"/><use href="#g48" x="8.70"/><use href="#g44" x="18.90"/><use href="#g51" x="24.10"/></g>
<g transform="translate(361.5 563.7) rotate(-80) scale(0.763 0.909) skewX(-18)" stroke-width="2.33"><use href="#g49" x="0.00"/><use href="#g46" x="8.70"/><use href="#g48" x="13.90"/><use href="#g51" x="24.10"/></g>
<g transform="translate(402.7 564.8) rotate(-80) scale(0.759 0.909) skewX(-18)" stroke-width="2.34"><use href="#g51" x="0.00"/><use href="#g46" x="10.20"/><use href="#g50" x="15.40"/><use href="#g56" x="25.60"/></g>
<g transform="translate(341.4 633.7) rotate(0) scale(0.984 0.864) skewX(-18)" stroke-width="2.11"><use href="#g51" x="0.00"/><use href="#g46" x="10.20"/><use href="#g50" x="15.40"/><use href="#g49" x="25.60"/></g>
<g transform="translate(499.2 583.2) rotate(0) scale(1.165 0.955) skewX(-18)" stroke-width="1.84"><use href="#g51" x="0.00"/><use href="#g46" x="10.39"/><use href="#g55" x="15.78"/><use href="#g54" x="26.18"/></g>
<g transform="translate(531.5 610.5) rotate(0) scale(1.062 0.955) skewX(-18)" stroke-width="1.93"><use href="#g57" x="0.00"/></g>
<g transform="translate(517.7 627.6) rotate(0) scale(1.044 0.955) skewX(-18)" stroke-width="1.95"><use href="#g49" x="0.00"/><use href="#g48" x="8.70"/><use href="#g46" x="18.90"/><use href="#g56" x="24.10"/></g>
<g transform="translate(599.3 644.7) rotate(-80) scale(0.967 1.000) skewX(-18)" stroke-width="1.98"><use href="#g51" x="0.00"/><use href="#g46" x="10.20"/><use href="#g50" x="15.40"/><use href="#g55" x="25.60"/></g>
<g transform="translate(446.7 634.7) rotate(0) scale(0.928 0.864) skewX(-18)" stroke-width="2.18"><use href="#g49" x="0.00"/><use href="#g46" x="8.70"/><use href="#g50" x="13.90"/><use href="#g50" x="24.10"/></g>
<g transform="translate(506.3 677.4) rotate(-75) scale(0.857 1.000) skewX(-18)" stroke-width="2.10"><use href="#g49" x="0.00"/><use href="#g46" x="8.70"/><use href="#g50" x="13.90"/><use href="#g53" x="24.10"/></g>
<g transform="translate(533.5 674.0) rotate(0) scale(1.065 0.955) skewX(-18)" stroke-width="1.93"><use href="#g50" x="0.00"/><use href="#g46" x="10.20"/><use href="#g53" x="15.40"/><use href="#g53" x="25.60"/></g>
<g transform="translate(685.2 612.5) rotate(0) scale(1.109 0.909) skewX(-18)" stroke-width="1.93"><use href="#g49" x="0.00"/><use href="#g48" x="11.57"/></g>
<g transform="translate(677.1 630.6) rotate(0) scale(1.105 0.909) skewX(-18)" stroke-width="1.94"><use href="#g49" x="0.00"/><use href="#g49" x="8.70"/><use href="#g46" x="17.40"/><use href="#g51" x="22.60"/></g>
<g transform="translate(767.1 642.3) rotate(-92) scale(0.967 1.000) skewX(-18)" stroke-width="1.98"><use href="#g51" x="0.00"/><use href="#g46" x="10.20"/><use href="#g50" x="15.40"/><use href="#g56" x="25.60"/></g>
<g transform="translate(671.1 675.0) rotate(0) scale(0.750 0.955) skewX(-18)" stroke-width="2.29"><use href="#g51" x="0.00"/><use href="#g46" x="10.20"/></g>
<g transform="translate(699.3 675.0) rotate(0) scale(1.165 0.955) skewX(-18)" stroke-width="1.84"><use href="#g52" x="0.00"/><use href="#g52" x="12.35"/></g>
<g transform="translate(522.8 733.6) rotate(0) scale(0.887 0.727) skewX(-18)" stroke-width="2.42"><use href="#g1041" x="0.00"/><use href="#g1072" x="18.80"/><use href="#g1083" x="37.10"/><use href="#g1082" x="54.40"/><use href="#g1086" x="71.70"/><use href="#g1085" x="89.20"/></g>
<g transform="translate(548.5 749.0) rotate(0) scale(1.109 0.909) skewX(-18)" stroke-width="1.93"><use href="#g50" x="0.00"/><use href="#g46" x="10.47"/><use href="#g55" x="15.94"/><use href="#g49" x="26.41"/></g>
<g transform="translate(648.4 733.6) rotate(0) scale(0.943 0.773) skewX(-18)" stroke-width="2.27"><use href="#g1041" x="0.00"/><use href="#g1072" x="18.50"/><use href="#g1083" x="36.50"/><use href="#g1082" x="53.50"/><use href="#g1086" x="70.50"/><use href="#g1085" x="87.70"/></g>
<g transform="translate(672.7 746.8) rotate(0) scale(0.943 0.773) skewX(-18)" stroke-width="2.27"><use href="#g50" x="0.00"/><use href="#g46" x="11.48"/><use href="#g54" x="17.96"/><use href="#g48" x="29.44"/></g>
</g>
</g>
<g font-family="Liberation Sans, sans-serif" font-weight="bold" font-size="64">
<text x="467.5" y="417" fill="#8a8f94" opacity="0.2">artira</text>
<text x="465.5" y="415" fill="#ffffff" opacity="0.5">artira</text>
</g>
</svg>
</body></html>
